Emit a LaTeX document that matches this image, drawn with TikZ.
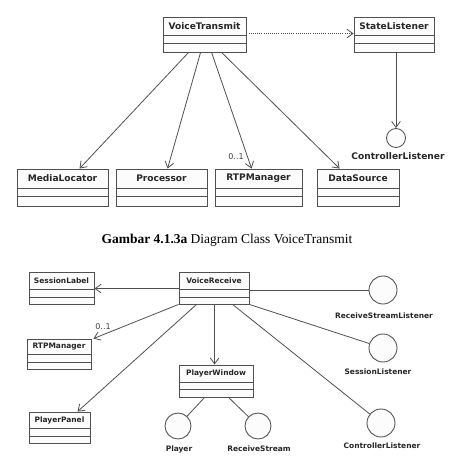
\documentclass[tikz,border=0pt]{standalone}
\usepackage{fontspec}
\usetikzlibrary{calc,fit,arrows.meta}
\newfontfamily\dvs{DejaVu Sans}
\newfontfamily\tnr{Liberation Serif}
\definecolor{lc}{HTML}{505050}
\definecolor{bf}{HTML}{FCFCFC}
\tikzset{
  clsbox/.style={draw=lc, fill=bf, inner sep=0pt, line width=0.65pt},
  clsline/.style={draw=lc, line width=0.65pt},
  ttop/.style={font=\dvs\bfseries\fontsize{6.8}{8}\selectfont, inner sep=0pt, text=black!85},
  tbot/.style={font=\dvs\bfseries\fontsize{5.6}{7}\selectfont, inner sep=0pt, text=black!85},
  mult/.style={font=\dvs\fontsize{6}{7}\selectfont, inner sep=0pt, text=black!75},
  iface/.style={circle, draw=lc, fill=bf, inner sep=0pt, line width=0.65pt},
  captxt/.style={font=\tnr\fontsize{10.1}{12}\selectfont, inner sep=0pt},
  nav/.style={draw=lc, line width=0.6pt, -{Straight Barb[length=4.5pt,width=6.5pt]}},
  dep/.style={draw=lc, line width=0.6pt, densely dotted, -{Straight Barb[length=4.5pt,width=6.5pt]}},
  assoc/.style={draw=lc, line width=0.6pt},
}
\newcommand\ucls[9]{%
  \coordinate (#1-a) at (#2,#3);
  \coordinate (#1-b) at (#4,#5);
  \node[clsbox, fit=(#1-a)(#1-b)] (#1) {};
  \draw[clsline] (#2,#6) -- (#4,#6) (#2,#7) -- (#4,#7);
  \node[#9] (#1-t) at ({(#2+#4)/2},{(#3+#6)/2}) {#8};
}
\begin{document}
\begin{tikzpicture}[x=0.75pt,y=-0.75pt]
\useasboundingbox[fill=white] (0,0) rectangle (454,466);
% ---------- top diagram ----------
\ucls{vt}{163}{17}{246}{52}{35}{43}{VoiceTransmit}{ttop}
\ucls{sl}{354}{17}{434}{52}{35}{43}{StateListener}{ttop}
\ucls{ml}{17}{169}{108}{206}{188}{196}{MediaLocator}{ttop}
\ucls{pr}{116}{169}{207}{206}{188}{196}{Processor}{ttop}
\ucls{rtpa}{215}{169}{302}{206}{188}{196}{RTPManager}{ttop}
\ucls{ds}{317}{169}{399}{206}{188}{196}{DataSource}{ttop}
\node[iface, minimum size=14.25pt] (cla) at (396,138) {};
\node[ttop] (cla-l) at (398,156) {ControllerListener};
\draw[dep] ($(vt.north east)+(0,17)$) -- ($(sl.north west)+(0,17)$);
\draw[nav] (sl.south -| cla) -- (cla.north);
\draw[nav] ($(vt.south west)+(26,0)$) -- ($(ml.north west)+(63,0)$);
\draw[nav] ($(vt.south west)+(38,0)$) -- ($(pr.north west)+(52,0)$);
\draw[nav] ($(vt.south west)+(49,0)$) -- ($(rtpa.north west)+(37,0)$);
\draw[nav] ($(vt.south west)+(59,0)$) -- ($(ds.north west)+(23,0)$);
\node[mult] (m1) at (236,157) {0..1};
\node[captxt] (capt) at (227,240) {\textbf{Gambar 4.1.3a} Diagram Class VoiceTransmit};
% ---------- bottom diagram ----------
\ucls{sla}{29}{272}{94}{304}{289}{297}{SessionLabel}{tbot}
\ucls{vr}{179}{272}{249}{304}{289}{297}{VoiceReceive}{tbot}
\ucls{rtpb}{27}{339}{91}{369}{354}{362}{RTPManager}{tbot}
\ucls{pw}{179}{365}{253}{397}{382}{389}{PlayerWindow}{tbot}
\ucls{pp}{29}{412}{90}{443}{428}{436}{PlayerPanel}{tbot}
\node[iface, minimum size=21pt] (rsl) at (383,290) {};
\node[iface, minimum size=21pt] (sesl) at (383,348) {};
\node[iface, minimum size=21pt] (ctl) at (381,423) {};
\node[iface, minimum size=19.5pt] (pl) at (178,426) {};
\node[iface, minimum size=19.5pt] (rs) at (258,426) {};
\node[tbot] (rsl-l) at (384,316) {ReceiveStreamListener};
\node[tbot] (sesl-l) at (378,372) {SessionListener};
\node[tbot] (ctl-l) at (382,446) {ControllerListener};
\node[tbot] (pl-l) at (179,449) {Player};
\node[tbot] (rs-l) at (259,449) {ReceiveStream};
\draw[nav] ($(vr.north west)+(0,17)$) -- ($(sla.north east)+(0,17)$);
\draw[assoc] (vr.east |- rsl) -- (rsl);
\draw[nav] (vr.south west) -- ($(rtpb.north east)+(2,0)$);
\node[mult] (m2) at (103,327) {0..1};
\draw[nav] ($(vr.south west)+(18,0)$) -- ($(pp.north west)+(49,0)$);
\draw[nav] ($(vr.south west)+(36,0)$) -- ($(pw.north west)+(36,0)$);
\draw[assoc] ($(vr.south west)+(54,0)$) -- (ctl);
\draw[assoc] (vr.south east) -- (sesl);
\draw[assoc] ($(pw.south west)+(26,0)$) -- (pl);
\draw[assoc] ($(pw.south west)+(50,0)$) -- (rs);
\end{tikzpicture}
\end{document}
